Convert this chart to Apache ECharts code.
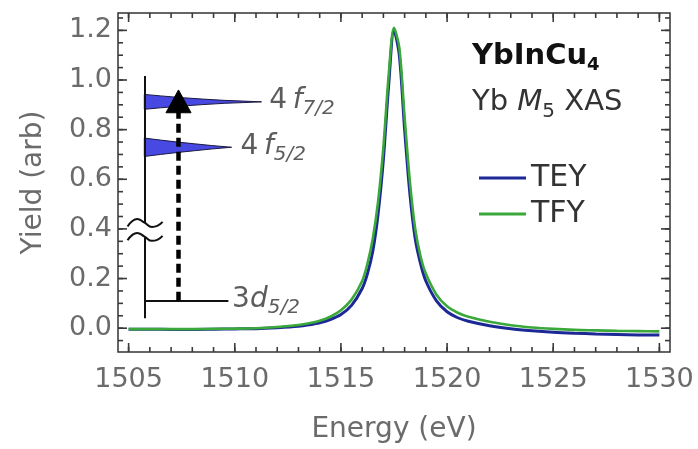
<!DOCTYPE html>
<html><head><meta charset="utf-8">
<script src="https://cdn.jsdelivr.net/npm/echarts@6/dist/echarts.min.js"></script>
<style>html,body{margin:0;padding:0;background:#fff}#c{width:698px;height:449px}</style>
</head><body><div id="c"></div>
<script>
// ---- data ----
const energy = [1505,1506,1507,1508,1509,1510,1511,1512,1513,1513.5,1514,1514.5,1515,1515.5,1516,1516.25,1516.5,1516.75,1517,1517.25,1517.5,1517.75,1518,1518.25,1518.5,1518.75,1519,1519.5,1520,1520.5,1521,1522,1523,1524,1525,1526,1527,1528,1529,1530];
const tey = [-0.004,-0.004,-0.005,-0.005,-0.004,-0.003,-0.002,0.002,0.008,0.014,0.022,0.035,0.055,0.092,0.16,0.22,0.31,0.46,0.68,0.98,1.20,1.10,0.80,0.54,0.36,0.26,0.19,0.11,0.066,0.042,0.028,0.010,-0.002,-0.010,-0.016,-0.020,-0.023,-0.025,-0.027,-0.028];
const tfy = [-0.004,-0.004,-0.004,-0.004,-0.003,-0.002,0.000,0.005,0.013,0.020,0.030,0.046,0.072,0.115,0.19,0.26,0.36,0.51,0.73,1.02,1.21,1.13,0.85,0.59,0.40,0.29,0.22,0.135,0.088,0.062,0.046,0.026,0.012,0.003,-0.003,-0.007,-0.009,-0.011,-0.012,-0.013];
const seriesNames = ['TEY','TFY'];

const xRange = [1504.5, 1530.5];
const yRange = [-0.096, 1.27];
const xMajorTicks = [1505,1510,1515,1520,1525,1530];
const xMinorTicks = [1505,1506,1507,1508,1509,1510,1511,1512,1513,1514,1515,1516,1517,1518,1519,1520,1521,1522,1523,1524,1525,1526,1527,1528,1529,1530];
const yMajorTicks = [0,0.2,0.4,0.6,0.8,1.0,1.2];
const yMinorTicks = [-0.05,0,0.05,0.1,0.15,0.2,0.25,0.3,0.35,0.4,0.45,0.5,0.55,0.6,0.65,0.7,0.75,0.8,0.85,0.9,0.95,1.0,1.05,1.1,1.15,1.2,1.25];

// inset energy-level diagram (in data units)
const insetSegments = [
  [[1505.74,1.016],[1505.74,0.424]],
  [[1505.74,0.368],[1505.74,0.04]],
  [[1505.74,0.111],[1509.7,0.111]]
];
const arrowShaft = [[1507.35,0.111],[1507.35,0.875]];
const breakMark1 = [[1504.95,0.410],[1505.15,0.430],[1505.4,0.440],[1505.75,0.425],[1506.1,0.408],[1506.35,0.412],[1506.6,0.428]];
const breakMark2 = [[1504.95,0.354],[1505.15,0.374],[1505.4,0.384],[1505.75,0.369],[1506.1,0.352],[1506.35,0.356],[1506.6,0.372]];
const level72 = [[1505.74,0.942],[1506.5,0.936],[1507.5,0.929],[1508.5,0.923],[1509.5,0.918],[1510.4,0.915],[1511.26,0.912],[1510.4,0.909],[1509.5,0.906],[1508.5,0.901],[1507.5,0.895],[1506.5,0.888],[1505.74,0.882]];
const level52 = [[1505.74,0.766],[1506.5,0.758],[1507.3,0.750],[1508.1,0.743],[1508.9,0.736],[1509.85,0.729],[1508.9,0.722],[1508.1,0.715],[1507.3,0.708],[1506.5,0.700],[1505.74,0.692]];
const arrowHead = [[1507.35,0.96],[1506.76,0.868],[1507.94,0.868]];
const insetShapes = [level72, level52, arrowHead];
const insetLabelPos = [[1511.6,0.912],[1510.25,0.728],[1509.85,0.111]];
const insetLabelText = ['{n|4}{f|\u2009f}{s|7/2}','{n|4}{f|\u2009f}{s|5/2}','{n|3}{f|d}{s|5/2}'];

// ---- chart ----
const FONT = 'DejaVu Sans';
const TICK_COLOR = '#3a3a3a';
const GRID = {left:118, top:13, right:28, bottom:95};
const chart = echarts.init(document.getElementById('c'), null, {renderer:'canvas'});

const xAxisOpt = {
  type:'value', position:'bottom', min:xRange[0], max:xRange[1],
  axisLine:{show:false, onZero:false}, splitLine:{show:false}, axisTick:{show:false},
  axisLabel:{show:true, customValues:xMajorTicks, margin:14, color:'#6b6b6b', fontSize:27, fontFamily:FONT,
    formatter: v => String(v)},
  name:'Energy (eV)', nameLocation:'middle', nameGap:64,
  nameTextStyle:{color:'#6b6b6b', fontSize:28, fontFamily:FONT}
};
const yAxisOpt = {
  type:'value', position:'left', min:yRange[0], max:yRange[1],
  axisLine:{show:false, onZero:false}, splitLine:{show:false}, axisTick:{show:false},
  axisLabel:{show:true, customValues:yMajorTicks, margin:6, color:'#6b6b6b', fontSize:27, fontFamily:FONT,
    formatter: v => v.toFixed(1)},
  name:'Yield (arb)', nameLocation:'middle', nameGap:70,
  nameTextStyle:{color:'#6b6b6b', fontSize:28, fontFamily:FONT}
};

const labelRich = {
  n:{fontFamily:FONT, fontSize:28, color:'#333', lineHeight:30, verticalAlign:'top'},
  f:{fontFamily:FONT, fontSize:28, color:'#333', fontStyle:'italic', lineHeight:30, verticalAlign:'top'},
  s:{fontFamily:FONT, fontSize:20, color:'#333', fontStyle:'italic', lineHeight:20, padding:[12,0,0,0], verticalAlign:'top'}
};

const option = {
  backgroundColor:'#fff',
  animation:false,
  grid:Object.assign({show:true, borderColor:'#333', borderWidth:1.5, backgroundColor:'transparent'}, GRID),
  title:[
    {text:'{b|YbInCu}{bs|4}', left:472, top:42, padding:0,
     textStyle:{fontWeight:'bold', rich:{
       b:{fontFamily:FONT, fontSize:29, fontWeight:'bold', color:'#111', lineHeight:32, verticalAlign:'top'},
       bs:{fontFamily:FONT, fontSize:18, fontWeight:'bold', color:'#111', lineHeight:18, padding:[14,0,0,0], verticalAlign:'top'}}}},
    {text:'{r|Yb }{i|M}{rs|5}{r| XAS}', left:472, top:88, padding:0,
     textStyle:{fontWeight:'normal', rich:{
       r:{fontFamily:FONT, fontSize:29, fontWeight:'normal', color:'#333', lineHeight:32, verticalAlign:'top'},
       i:{fontFamily:FONT, fontSize:29, fontWeight:'normal', fontStyle:'italic', color:'#333', lineHeight:32, verticalAlign:'top'},
       rs:{fontFamily:FONT, fontSize:20, fontWeight:'normal', color:'#333', lineHeight:20, padding:[14,0,0,0], verticalAlign:'top'}}}}
  ],
  legend:{data:seriesNames, orient:'vertical', left:479, top:163, padding:0, icon:'rect',
    itemWidth:47, itemHeight:3, itemGap:6,
    textStyle:{fontFamily:FONT, fontSize:30, color:'#333'}},
  xAxis:xAxisOpt,
  yAxis:yAxisOpt,
  series:[
    {name:seriesNames[0], type:'line', data:energy.map((e,i)=>[e,tey[i]]), smooth:0.3, symbol:'none',
     lineStyle:{color:'#1c2896', width:3}, itemStyle:{color:'#1c2896'}, z:3},
    {name:seriesNames[1], type:'line', data:energy.map((e,i)=>[e,tfy[i]]), smooth:0.3, symbol:'none',
     lineStyle:{color:'#3aa83a', width:2.6}, itemStyle:{color:'#3aa83a'}, z:4},
    {type:'custom', silent:true, z:5, clip:false,
     data:insetShapes.map(s=>s[0]),
     renderItem:(params, api)=>{
       const pts = insetShapes[params.dataIndex].map(p=>api.coord(p));
       const isHead = params.dataIndex === 2;
       return {type:'polygon', shape:{points:pts},
         style:{fill: isHead ? '#000' : '#4848e2', stroke: isHead ? '#000' : '#1a1a40', lineWidth: 1}};
     }},
    {type:'lines', coordinateSystem:'cartesian2d', silent:true, z:6, polyline:false,
     data:insetSegments.map(c=>({coords:c})),
     lineStyle:{color:'#111', width:2, opacity:1}},
    {type:'lines', coordinateSystem:'cartesian2d', silent:true, z:7,
     data:[{coords:arrowShaft}],
     lineStyle:{color:'#000', width:4.5, type:[9,5], opacity:1}},
    {type:'line', data:breakMark1, smooth:true, symbol:'none', silent:true, z:6,
     lineStyle:{color:'#111', width:2}},
    {type:'line', data:breakMark2, smooth:true, symbol:'none', silent:true, z:6,
     lineStyle:{color:'#111', width:2}},
    {type:'scatter', data:insetLabelPos, symbolSize:1, silent:true, z:8,
     itemStyle:{color:'rgba(0,0,0,0)'},
     label:{show:true, position:'right', distance:0, formatter:p=>insetLabelText[p.dataIndex], rich:labelRich}}
  ]
};
chart.setOption(option);

// frame ticks (inside, on all four sides), positioned through the axis scales
function tickGraphics(values, isX, len) {
  const out = [];
  values.forEach(v => {
    if (isX) {
      const a = chart.convertToPixel({gridIndex:0}, [v, yRange[0]]);
      const b = chart.convertToPixel({gridIndex:0}, [v, yRange[1]]);
      out.push({type:'line', shape:{x1:a[0], y1:a[1], x2:a[0], y2:a[1]-len}});
      out.push({type:'line', shape:{x1:b[0], y1:b[1], x2:b[0], y2:b[1]+len}});
    } else {
      const a = chart.convertToPixel({gridIndex:0}, [xRange[0], v]);
      const b = chart.convertToPixel({gridIndex:0}, [xRange[1], v]);
      out.push({type:'line', shape:{x1:a[0], y1:a[1], x2:a[0]+len, y2:a[1]}});
      out.push({type:'line', shape:{x1:b[0], y1:b[1], x2:b[0]-len, y2:b[1]}});
    }
  });
  return out;
}
const tickEls = [].concat(
  tickGraphics(xMajorTicks, true, 9), tickGraphics(xMinorTicks, true, 5),
  tickGraphics(yMajorTicks, false, 9), tickGraphics(yMinorTicks, false, 5)
).map(e => Object.assign(e, {silent:true, z:100, style:{stroke:TICK_COLOR, lineWidth:1.6}}));
chart.setOption({graphic:{elements:tickEls}});
</script>
</body></html>
